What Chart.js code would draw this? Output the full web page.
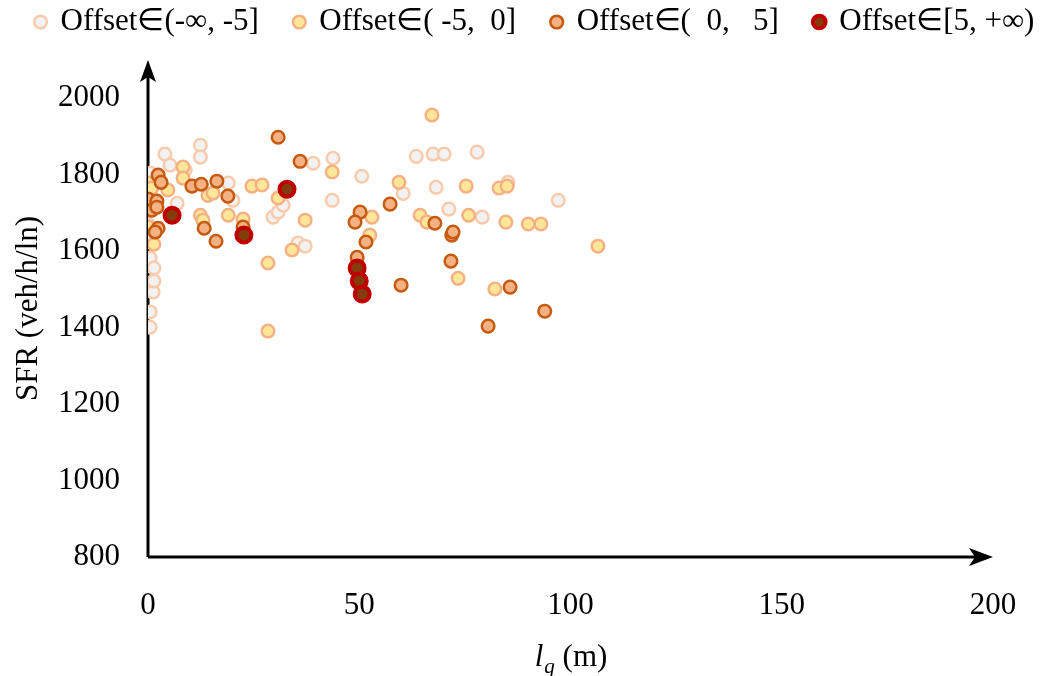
<!DOCTYPE html>
<html>
<head>
<meta charset="utf-8">
<script src="https://cdn.jsdelivr.net/npm/chart.js@4.4.0/dist/chart.umd.min.js"></script>
<style>
  html, body { margin: 0; padding: 0; background: #fff; }
  #wrap { width: 1042px; height: 676px; }
</style>
</head>
<body>
<div id="wrap"><canvas id="c"></canvas></div>
<script>
// scatter SFR vs longueur de file, par classe d'offset

const LEGEND = ['Offset\u2208(-\u221e, -5]', 'Offset\u2208( -5,  0]', 'Offset\u2208(  0,   5]', 'Offset\u2208[5, +\u221e)'];
const X_TICKS = [0, 50, 100, 150, 200];
const Y_TICKS = [800, 1000, 1200, 1400, 1600, 1800, 2000];

// Offset <= -5
const NEG_X = [4.0, 12.4, 12.4, 5.2, 0.5, 8.8, 6.9, 19.0, 20.1, 29.6, 30.8, 32.0, 39.1, 43.8, 43.6, 50.6, 35.5, 37.2,
  63.5, 67.5, 70.1, 77.9, 60.4, 68.2, 71.2, 79.1, 85.2, 97.1, 0.0, 0.5, 1.4, 0.7, 1.2, 0.5, 0.5, 1.4, 0.0];
const NEG_Y = [1854, 1877, 1846, 1825, 1804, 1812, 1725, 1778, 1733, 1689, 1702, 1720, 1830, 1843, 1733, 1796, 1621, 1613,
  1848, 1854, 1854, 1859, 1751, 1767, 1710, 1689, 1780, 1733, 1637, 1582, 1556, 1511, 1493, 1441, 1401, 1522, 1670];

// -5 < Offset <= 0
const MIDNEG_X = [8.3, 8.3, 4.7, 0.0, 0.9, 14.2, 15.4, 24.6, 27.0, 30.8, 12.4, 13.0, 19.0, 22.5, 37.2, 43.6, 34.1, 28.4, 28.4,
  53.0, 52.5, 59.4, 64.4, 66.0, 67.2, 75.3, 83.1, 85.0, 75.9, 84.7, 90.0, 93.0, 73.4, 82.1, 106.5, 1.4, 0.0];
const MIDNEG_Y = [1820, 1791, 1760, 1778, 1765, 1746, 1752, 1770, 1773, 1739, 1694, 1681, 1694, 1684, 1681, 1807, 1603, 1569, 1391,
  1689, 1642, 1780, 1694, 1676, 1956, 1770, 1765, 1770, 1694, 1676, 1671, 1671, 1529, 1501, 1613, 1618, 1663];

// 0 < Offset <= 5
const MIDPOS_X = [2.4, 3.1, 10.4, 12.6, 16.3, 18.9, 0.0, 2.1, 0.9, 2.1, 2.4, 1.7, 13.3, 16.1, 30.8, 36.0, 22.5, 50.2,
  49.0, 51.6, 49.5, 57.3, 59.9, 67.9, 71.9, 72.2, 71.7, 85.7, 93.9, 80.5];
const MIDPOS_Y = [1799, 1780, 1770, 1775, 1783, 1744, 1736, 1731, 1707, 1715, 1660, 1650, 1660, 1626, 1898, 1835, 1663, 1702,
  1676, 1624, 1584, 1723, 1511, 1673, 1642, 1650, 1574, 1506, 1443, 1404];

// Offset >= 5
const POS_X = [5.7, 32.9, 22.7, 49.5, 50.0, 50.7];
const POS_Y = [1694, 1762, 1642, 1556, 1522, 1488];

const SERIF = "'Liberation Serif', 'Times New Roman', serif";
const FONT_SIZE = 31;
const LEGEND_GAP = 36;

const pts = (xs, ys) => xs.map((x, i) => ({ x, y: ys[i] }));

function series(label, xs, ys, fill, border, bw, r, order) {
  return {
    label,
    data: pts(xs, ys),
    backgroundColor: fill,
    borderColor: border,
    pointBackgroundColor: fill,
    pointBorderColor: border,
    pointBorderWidth: bw,
    borderWidth: bw,
    pointRadius: r,
    pointHoverRadius: r,
    order
  };
}

// axes avec flèches, sous les points
const arrowAxes = {
  id: 'arrowAxes',
  beforeDatasetsDraw(chart) {
    const { ctx, chartArea: a } = chart;
    ctx.save();
    ctx.strokeStyle = '#000';
    ctx.fillStyle = '#000';
    ctx.lineWidth = 3;
    ctx.beginPath();
    ctx.moveTo(a.left, a.bottom);
    ctx.lineTo(a.left, a.top + 12);
    ctx.moveTo(a.left, a.bottom);
    ctx.lineTo(a.right - 12, a.bottom);
    ctx.stroke();
    ctx.beginPath();
    ctx.moveTo(a.left, a.top);
    ctx.lineTo(a.left - 8, a.top + 22);
    ctx.lineTo(a.left, a.top + 17);
    ctx.lineTo(a.left + 8, a.top + 22);
    ctx.closePath();
    ctx.fill();
    ctx.beginPath();
    ctx.moveTo(a.right, a.bottom);
    ctx.lineTo(a.right - 24, a.bottom - 9);
    ctx.lineTo(a.right - 18, a.bottom);
    ctx.lineTo(a.right - 24, a.bottom + 9);
    ctx.closePath();
    ctx.fill();
    ctx.restore();
  }
};

// titre x : l_q (m) avec indice
const xTitle = {
  id: 'xTitle',
  afterDraw(chart) {
    const { ctx, chartArea: a } = chart;
    const cx = (a.left + a.right) / 2;
    const base = 666;
    ctx.save();
    ctx.fillStyle = '#000';
    ctx.textBaseline = 'alphabetic';
    const fIt = `italic ${FONT_SIZE}px ${SERIF}`;
    const fSub = `italic ${Math.round(FONT_SIZE * 0.68)}px ${SERIF}`;
    const fUp = `${FONT_SIZE}px ${SERIF}`;
    ctx.font = fIt; const w1 = ctx.measureText('l').width;
    ctx.font = fSub; const w2 = ctx.measureText('q').width;
    ctx.font = fUp; const w3 = ctx.measureText(' (m)').width;
    let x = cx - (w1 + w2 + w3) / 2;
    ctx.font = fIt; ctx.fillText('l', x, base); x += w1 + 1;
    ctx.font = fSub; ctx.fillText('q', x, base + 7); x += w2;
    ctx.font = fUp; ctx.fillText(' (m)', x, base);
    ctx.restore();
  }
};

// légende sur une seule ligne, calée comme l'original
const legendBox = {
  id: 'legendBox',
  beforeInit(chart) {
    const fit = chart.legend.fit;
    chart.legend.fit = function () {
      this.maxWidth = 1400;
      fit.bind(chart.legend)();
      this.height = 60;
    };
  },
  afterLayout(chart) {
    const lg = chart.legend;
    lg.top = 22 - LEGEND_GAP - FONT_SIZE / 2;
    lg.left = 36 - LEGEND_GAP;
    lg.right = 1400;
  }
};

new Chart(document.getElementById('c'), {
  type: 'scatter',
  data: {
    datasets: [
      series(LEGEND[0], NEG_X, NEG_Y, '#f2f2f2', '#f8cbad', 2.5, 6.3, 3),
      series(LEGEND[1], MIDNEG_X, MIDNEG_Y, '#ffe699', '#f4b183', 2.5, 6.3, 2),
      series(LEGEND[2], MIDPOS_X, MIDPOS_Y, '#f4b183', '#c55a11', 2.5, 6.3, 1),
      series(LEGEND[3], POS_X, POS_Y, '#843c0c', '#c00000', 4, 7.5, 0)
    ]
  },
  options: {
    responsive: true,
    maintainAspectRatio: false,
    animation: false,
    layout: { padding: { left: 0, right: 49, top: 0, bottom: 0 } },
    plugins: {
      legend: {
        position: 'top',
        align: 'start',
        labels: {
          usePointStyle: true,
          pointStyle: 'circle',
          boxWidth: 9,
          boxHeight: 9,
          padding: LEGEND_GAP,
          color: '#000',
          font: { family: SERIF, size: FONT_SIZE },
          sort: (a, b) => a.datasetIndex - b.datasetIndex
        }
      },
      tooltip: { enabled: false }
    },
    scales: {
      x: {
        type: 'linear',
        min: 0,
        max: 200,
        afterBuildTicks: s => { s.ticks = X_TICKS.map(v => ({ value: v })); },
        afterFit: s => { s.height = 119; },
        grid: { display: false },
        border: { display: false },
        ticks: { color: '#000', padding: 22, font: { family: SERIF, size: FONT_SIZE }, maxRotation: 0, callback: v => String(v) }
      },
      y: {
        type: 'linear',
        min: 800,
        max: 2100,
        afterBuildTicks: s => { s.ticks = Y_TICKS.map(v => ({ value: v })); },
        afterFit: s => { s.width = 148; },
        grid: { display: false },
        border: { display: false },
        ticks: { color: '#000', padding: 20, font: { family: SERIF, size: FONT_SIZE }, callback: v => String(v) },
        title: {
          display: true,
          text: 'SFR (veh/h/ln)',
          color: '#000',
          font: { family: SERIF, size: FONT_SIZE },
          padding: { top: 10, bottom: 0 }
        }
      }
    }
  },
  plugins: [arrowAxes, xTitle, legendBox]
});
</script>
</body>
</html>
